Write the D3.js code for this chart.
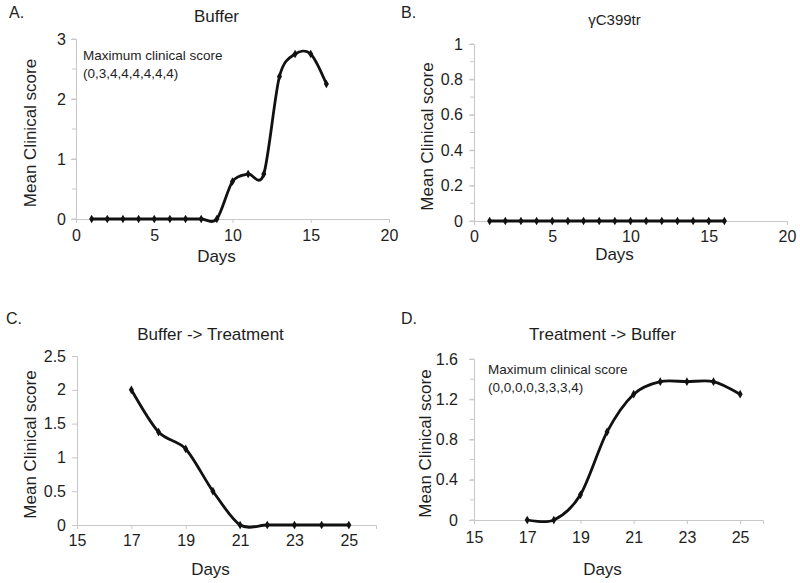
<!DOCTYPE html>
<html>
<head>
<meta charset="utf-8">
<script src="https://cdn.jsdelivr.net/npm/d3@7"></script>
<style>
  body { margin: 0; background: #fff; }
  svg text { font-family: "Liberation Sans", Arial, sans-serif; fill: #1e1e1e; }
</style>
</head>
<body>
<div id="chart"></div>
<script>
// data
const daysA = [1, 2, 3, 4, 5, 6, 7, 8, 9, 10, 11, 12, 13, 14, 15, 16];
const scoreA = [0, 0, 0, 0, 0, 0, 0, 0, 0, 0.625, 0.75, 0.75, 2.375, 2.75, 2.75, 2.25];
const daysB = [1, 2, 3, 4, 5, 6, 7, 8, 9, 10, 11, 12, 13, 14, 15, 16];
const scoreB = [0, 0, 0, 0, 0, 0, 0, 0, 0, 0, 0, 0, 0, 0, 0, 0];
const daysC = [17, 18, 19, 20, 21, 22, 23, 24, 25];
const scoreC = [2, 1.375, 1.125, 0.5, 0, 0, 0, 0, 0];
const daysD = [17, 18, 19, 20, 21, 22, 23, 24, 25];
const scoreD = [0, 0, 0.25, 0.875, 1.25, 1.375, 1.375, 1.375, 1.25];

const xTicksAB = [0, 5, 10, 15, 20];
const xTicksCD = [15, 17, 19, 21, 23, 25];
const yTicksA = [0, 1, 2, 3];
const yTicksB = [0, 0.2, 0.4, 0.6, 0.8, 1];
const yTicksC = [0, 0.5, 1, 1.5, 2, 2.5];
const yTicksD = [0, 0.4, 0.8, 1.2, 1.6];

const W = 800, H = 583;
const svg = d3.select("#chart").append("svg")
    .attr("width", W)
    .attr("height", H);

const panels = [
  {letter: "A.", title: "Buffer", days: daysA, score: scoreA,
   xd: [0, 20], yd: [0, 3], xr: [76, 389], yr: [219, 39],
   xt: xTicksAB, yt: yTicksA, yminor: 0.5, fmt: d3.format("d"), ypad: 5,
   letterXY: [9, 18], titleY: 22, titleSize: 17, tickY: 241, daysY: 262, ylabX: 30,
   note: ["Maximum clinical score", "(0,3,4,4,4,4,4,4)"], noteXY: [83, 60]},
  {letter: "B.", title: "\u03b3C399tr", days: daysB, score: scoreB,
   xd: [0, 20], yd: [0, 1], xr: [474, 787], yr: [221, 44],
   xt: xTicksAB, yt: yTicksB, yminor: 0.1, fmt: d => d === 0 || d === 1 ? d : d.toFixed(1), ypad: 6,
   letterXY: [401, 18], titleY: 25, titleSize: 15, tickY: 242, daysY: 260, ylabX: 427},
  {letter: "C.", title: "Buffer -> Treatment", days: daysC, score: scoreC,
   xd: [15, 26], yd: [0, 2.5], xr: [77, 376], yr: [525, 356],
   xt: xTicksCD, yt: yTicksC, yminor: null, fmt: d => d, ypad: 6,
   letterXY: [6, 324], titleY: 340, titleSize: 17, tickY: 546, daysY: 575, ylabX: 30},
  {letter: "D.", title: "Treatment -> Buffer", days: daysD, score: scoreD,
   xd: [15, 25.86], yd: [0, 1.6], xr: [474, 763], yr: [520, 359],
   xt: xTicksCD, yt: yTicksD, yminor: 0.2, fmt: d => d === 0 ? d : d.toFixed(1), ypad: 11,
   letterXY: [401, 324], titleY: 340, titleSize: 17, tickY: 543, daysY: 575, ylabX: 425,
   note: ["Maximum clinical score", "(0,0,0,0,3,3,3,4)"], noteXY: [488, 374]}
];

panels.forEach(function(p) {
  let g = svg.append("g");

  let x = d3.scaleLinear().domain(p.xd).range(p.xr);
  let y = d3.scaleLinear().domain(p.yd).range(p.yr);

  // minor ticks on y
  if (p.yminor) {
    let minor = d3.range(p.yd[0], p.yd[1] + 1e-9, p.yminor);
    g.selectAll(".minor").data(minor).enter()
      .append("line")
      .attr("x1", x(p.xd[0]) - 4).attr("x2", x(p.xd[0]))
      .attr("y1", d => y(d)).attr("y2", d => y(d))
      .attr("stroke", "#c8c8c8");
  }

  // axes
  let yAxis = g.append("g")
    .attr("transform", `translate(${x(p.xd[0])},0)`)
    .call(d3.axisLeft(y).tickValues(p.yt).tickFormat(p.fmt).tickSize(5).tickPadding(p.ypad));
  let xAxis = g.append("g")
    .attr("transform", `translate(0,${y(0)})`)
    .call(d3.axisBottom(x).tickValues(p.xt).tickFormat(d => d).tickSize(4).tickPadding(6));

  [yAxis, xAxis].forEach(function(a) {
    a.select(".domain").attr("stroke", "#c8c8c8");
    a.selectAll(".tick line").attr("stroke", "#c8c8c8");
    a.selectAll(".tick text")
      .style("font-size", "16px")
      .style("font-family", "Liberation Sans, Arial, sans-serif")
      .attr("fill", "#1e1e1e");
  });
  xAxis.selectAll(".tick text").attr("dy", null).attr("y", p.tickY - y(0));

  // smoothed line like Excel
  let pts = p.days.map((d, i) => [d, p.score[i]]);
  let line = d3.line()
    .x(d => x(d[0]))
    .y(d => y(d[1]))
    .curve(d3.curveCardinal.tension(0.1));

  g.append("path")
    .datum(pts)
    .attr("d", line)
    .attr("fill", "none")
    .attr("stroke", "#111")
    .attr("stroke-width", 2.8);

  g.selectAll(".pt").data(pts).enter()
    .append("path")
    .attr("d", d3.symbol(d3.symbolDiamond, 22))
    .attr("transform", d => `translate(${x(d[0])},${y(d[1])})`)
    .attr("fill", "#111");

  // labels
  g.append("text")
    .attr("x", p.letterXY[0]).attr("y", p.letterXY[1])
    .style("font-size", "16px")
    .text(p.letter);

  g.append("text")
    .attr("x", (p.xr[0] + p.xr[1]) / 2 - 16).attr("y", p.titleY)
    .style("text-anchor", "middle")
    .style("font-size", p.titleSize + "px")
    .text(p.title);

  g.append("text")
    .attr("x", (p.xr[0] + p.xr[1]) / 2 - 16).attr("y", p.daysY)
    .style("text-anchor", "middle")
    .style("font-size", "17px")
    .text("Days");

  g.append("text")
    .attr("transform", `translate(${p.ylabX + 6},${(p.yr[0] + p.yr[1]) / 2 + 4}) rotate(-90)`)
    .style("text-anchor", "middle")
    .style("font-size", "17px")
    .text("Mean Clinical score");

  if (p.note) {
    g.append("text")
      .attr("x", p.noteXY[0]).attr("y", p.noteXY[1])
      .style("font-size", "13.5px")
      .text(p.note[0]);
    g.append("text")
      .attr("x", p.noteXY[0]).attr("y", p.noteXY[1] + 18)
      .style("font-size", "13.5px")
      .text(p.note[1]);
  }
});
</script>
</body>
</html>
